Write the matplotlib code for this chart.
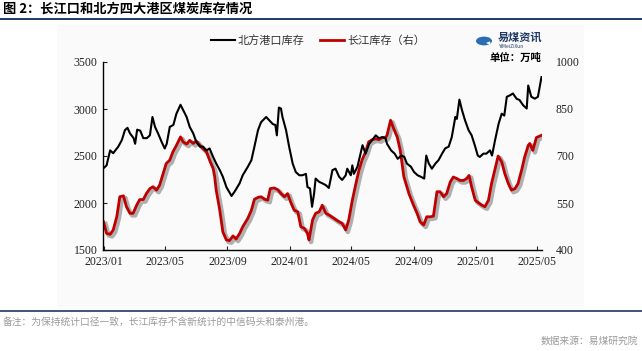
import pandas as pd
import matplotlib
matplotlib.use('Agg')
import matplotlib.pyplot as plt
import matplotlib.dates as mdates
import matplotlib.patheffects as pe
from matplotlib.patches import Rectangle, Circle, Wedge
from matplotlib.lines import Line2D

plt.rcParams['font.family'] = ['Noto Sans CJK SC', 'DejaVu Sans']

# 北方港口库存 (left axis, 万吨)
north_dates = [
    '2023-01-01', '2023-01-07', '2023-01-14', '2023-01-20', '2023-01-30', '2023-02-06',
    '2023-02-12', '2023-02-17', '2023-02-22', '2023-03-01', '2023-03-04', '2023-03-08',
    '2023-03-14', '2023-03-20', '2023-03-27', '2023-04-02', '2023-04-07', '2023-04-12',
    '2023-04-18', '2023-04-25', '2023-05-01', '2023-05-05', '2023-05-11', '2023-05-18',
    '2023-05-24', '2023-06-01', '2023-06-06', '2023-06-13', '2023-06-19', '2023-06-26',
    '2023-07-02', '2023-07-09', '2023-07-15', '2023-07-22', '2023-07-28', '2023-08-04',
    '2023-08-10', '2023-08-17', '2023-08-23', '2023-08-30', '2023-09-09', '2023-09-15',
    '2023-09-25', '2023-10-01', '2023-10-11', '2023-10-18', '2023-10-24', '2023-10-31',
    '2023-11-06', '2023-11-16', '2023-11-22', '2023-11-29', '2023-12-04', '2023-12-07',
    '2023-12-11', '2023-12-15', '2023-12-18', '2023-12-25', '2023-12-31', '2024-01-07',
    '2024-01-13', '2024-01-20', '2024-01-26', '2024-02-02', '2024-02-05', '2024-02-10',
    '2024-02-14', '2024-02-18', '2024-02-21', '2024-02-28', '2024-03-05', '2024-03-12',
    '2024-03-18', '2024-03-25', '2024-03-31', '2024-04-07', '2024-04-13', '2024-04-20',
    '2024-04-23', '2024-04-30', '2024-05-03', '2024-05-06', '2024-05-13', '2024-05-16',
    '2024-05-23', '2024-05-29', '2024-06-05', '2024-06-11', '2024-06-18', '2024-06-24',
    '2024-07-01', '2024-07-07', '2024-07-10', '2024-07-18', '2024-07-25', '2024-07-31',
    '2024-08-07', '2024-08-13', '2024-08-18', '2024-08-26', '2024-09-01', '2024-09-08',
    '2024-09-14', '2024-09-21', '2024-09-25', '2024-09-30', '2024-10-06', '2024-10-13',
    '2024-10-19', '2024-10-26', '2024-11-01', '2024-11-08', '2024-11-14', '2024-11-21',
    '2024-11-24', '2024-11-29', '2024-12-04', '2024-12-10', '2024-12-17', '2024-12-23',
    '2024-12-30', '2025-01-04', '2025-01-08', '2025-01-15', '2025-01-21', '2025-01-28',
    '2025-02-01', '2025-02-07', '2025-02-14', '2025-02-20', '2025-02-25', '2025-03-02',
    '2025-03-08', '2025-03-14', '2025-03-21', '2025-03-27', '2025-04-03', '2025-04-10',
    '2025-04-13', '2025-04-19', '2025-04-26', '2025-05-02', '2025-05-09',
]
north_vals = [
    2370, 2400, 2560, 2530, 2600, 2670, 2775, 2800, 2740, 2690, 2630, 2780,
    2770, 2690, 2690, 2720, 2915, 2810, 2740, 2650, 2580, 2630, 2810, 2830,
    2950, 3045, 2990, 2915, 2810, 2740, 2650, 2600, 2600, 2560, 2580, 2490,
    2420, 2350, 2280, 2170, 2075, 2120, 2210, 2295, 2385, 2455, 2600, 2775,
    2860, 2915, 2880, 2840, 2830, 2720, 3015, 3005, 2915, 2775, 2600, 2420,
    2330, 2295, 2295, 2310, 2170, 2155, 1960, 2100, 2260, 2225, 2210, 2190,
    2160, 2350, 2365, 2280, 2245, 2295, 2365, 2295, 2400, 2310, 2385, 2455,
    2615, 2525, 2630, 2670, 2720, 2690, 2700, 2690, 2630, 2560, 2525, 2470,
    2505, 2490, 2420, 2385, 2330, 2295, 2280, 2260, 2505, 2420, 2365, 2420,
    2455, 2525, 2580, 2600, 2700, 2915, 2895, 3100, 2990, 2880, 2775, 2720,
    2600, 2505, 2490, 2525, 2525, 2560, 2505, 2670, 2845, 2950, 2930, 3130,
    3145, 3165, 3110, 3095, 3040, 3005, 3250, 3130, 3110, 3130, 3340,
]

# 长江库存 (right axis, 万吨)
yangtze_dates = [
    '2023-01-01', '2023-01-07', '2023-01-14', '2023-01-20', '2023-01-27', '2023-02-02',
    '2023-02-09', '2023-02-15', '2023-02-22', '2023-02-28', '2023-03-07', '2023-03-13',
    '2023-03-20', '2023-03-26', '2023-04-02', '2023-04-08', '2023-04-15', '2023-04-21',
    '2023-04-28', '2023-05-04', '2023-05-11', '2023-05-17', '2023-05-24', '2023-06-01',
    '2023-06-06', '2023-06-13', '2023-06-19', '2023-06-26', '2023-07-02', '2023-07-09',
    '2023-07-15', '2023-07-22', '2023-07-28', '2023-08-04', '2023-08-07', '2023-08-10',
    '2023-08-17', '2023-08-23', '2023-08-30', '2023-09-05', '2023-09-12', '2023-09-18',
    '2023-09-25', '2023-10-01', '2023-10-11', '2023-10-18', '2023-10-24', '2023-10-31',
    '2023-11-06', '2023-11-13', '2023-11-19', '2023-11-24', '2023-12-02', '2023-12-09',
    '2023-12-15', '2023-12-22', '2023-12-28', '2024-01-04', '2024-01-10', '2024-01-17',
    '2024-01-23', '2024-01-30', '2024-02-05', '2024-02-08', '2024-02-15', '2024-02-21',
    '2024-02-28', '2024-03-05', '2024-03-12', '2024-03-18', '2024-03-28', '2024-04-07',
    '2024-04-13', '2024-04-20', '2024-04-26', '2024-05-03', '2024-05-10', '2024-05-16',
    '2024-05-22', '2024-05-29', '2024-06-04', '2024-06-11', '2024-06-18', '2024-06-24',
    '2024-07-01', '2024-07-07', '2024-07-10', '2024-07-17', '2024-07-23', '2024-07-30',
    '2024-08-05', '2024-08-12', '2024-08-22', '2024-08-31', '2024-09-07', '2024-09-13',
    '2024-09-20', '2024-09-26', '2024-10-03', '2024-10-09', '2024-10-16', '2024-10-22',
    '2024-10-29', '2024-11-04', '2024-11-11', '2024-11-17', '2024-11-24', '2024-11-30',
    '2024-12-07', '2024-12-13', '2024-12-18', '2024-12-23', '2024-12-30', '2025-01-05',
    '2025-01-12', '2025-01-18', '2025-01-25', '2025-01-31', '2025-02-07', '2025-02-13',
    '2025-02-20', '2025-02-26', '2025-03-05', '2025-03-11', '2025-03-18', '2025-03-24',
    '2025-03-31', '2025-04-06', '2025-04-13', '2025-04-16', '2025-04-22', '2025-04-29',
    '2025-05-09',
]
yangtze_vals = [
    490, 453, 450, 464, 506, 570, 573, 538, 517, 517, 543, 561,
    561, 580, 596, 602, 591, 607, 644, 676, 687, 713, 734, 761,
    745, 738, 750, 740, 748, 734, 724, 713, 687, 660, 634, 591,
    527, 458, 432, 430, 445, 435, 453, 474, 501, 527, 562, 568,
    570, 562, 559, 596, 598, 592, 580, 570, 580, 549, 527, 522,
    474, 469, 453, 432, 496, 517, 522, 543, 517, 512, 501, 490,
    485, 464, 496, 559, 612, 655, 687, 713, 745, 752, 755, 752,
    759, 759, 766, 814, 788, 761, 718, 634, 580, 543, 517, 490,
    480, 506, 506, 508, 586, 586, 570, 580, 617, 633, 628, 622,
    622, 628, 638, 601, 559, 551, 543, 538, 559, 612, 660, 700,
    681, 644, 612, 591, 596, 612, 655, 697, 734, 740, 718, 759,
    766,
]

left_ticks = [1500, 2000, 2500, 3000, 3500]
right_ticks = [400, 550, 700, 850, 1000]

title = '图 2：长江口和北方四大港区煤炭库存情况'
note = '备注：为保持统计口径一致，长江库存不含新统计的中信码头和泰州港。'
source = '数据来源：易煤研究院'

navy = '#1f3864'
red = '#c00000'
tick_font = 'Liberation Serif'

fig = plt.figure(figsize=(6.42, 3.51), dpi=100)

# light panel behind the chart
fig.patches.append(Rectangle((57 / 642, 1 - 307 / 351), 527 / 642, 282 / 351,
                             transform=fig.transFigure, fc='#fafafa', ec='none', zorder=-5))

# header and footer rules
fig.add_artist(Line2D([0, 1], [1 - 19 / 351] * 2, color=navy, lw=1.4))
fig.add_artist(Line2D([0, 1], [1 - 311 / 351] * 2, color=navy, lw=1.2))
fig.text(3 / 642, 1 - 9 / 351, title, fontsize=9.5, fontweight='bold', va='center', ha='left')
fig.text(3 / 642, 1 - 322 / 351, note, fontsize=7, color='#9a9a9a', va='center', ha='left')
fig.text(638 / 642, 1 - 341 / 351, source, fontsize=7, color='#9a9a9a', va='center', ha='right')

ax = fig.add_axes([103 / 642, 1 - 250 / 351, 439 / 642, 188 / 351])
ax2 = ax.twinx()
ax.set_zorder(2)
ax2.set_zorder(1)
ax.set_facecolor('none')
ax2.set_facecolor('none')

nd = pd.to_datetime(north_dates)
yd = pd.to_datetime(yangtze_dates)

l1, = ax.plot(nd, north_vals, color='black', lw=1.5)
l2, = ax2.plot(yd, yangtze_vals, color=red, lw=2.0,
               path_effects=[pe.SimpleLineShadow(offset=(1.5, -1.5), shadow_color='#555555', alpha=0.45, linewidth=3.2),
                             pe.Normal()])

ax.set_xlim(pd.Timestamp('2022-12-31'), pd.Timestamp('2025-05-10'))
ax.set_ylim(1500, 3500)
ax2.set_ylim(400, 1000)
ax.set_yticks(left_ticks)
ax2.set_yticks(right_ticks)
ax.xaxis.set_major_locator(mdates.MonthLocator(bymonth=[1, 5, 9]))
ax.xaxis.set_major_formatter(mdates.DateFormatter('%Y/%m'))

for a in (ax, ax2):
    a.spines['top'].set_visible(False)
    a.spines['right'].set_visible(False)
ax2.spines['left'].set_visible(False)
ax2.spines['bottom'].set_visible(False)
ax.spines['left'].set_linewidth(1.0)
ax.spines['bottom'].set_linewidth(1.0)

ax.tick_params(axis='both', direction='in', length=3, width=0.8, labelsize=8.5, colors='#222222', pad=4)
ax2.tick_params(axis='y', length=0, labelsize=8.5, colors='#222222', pad=10)
for lab in ax.get_xticklabels() + ax.get_yticklabels() + ax2.get_yticklabels():
    lab.set_fontfamily(tick_font)

leg_line2 = Line2D([], [], color=red, lw=2.0)
fig.legend([l1, leg_line2], ['北方港口库存', '长江库存（右）'], loc='center',
           bbox_to_anchor=(318 / 642, 1 - 40 / 351), ncol=2, frameon=False,
           fontsize=8, handlelength=2.1, handletextpad=0.3, columnspacing=1.4,
           labelcolor='#333333')

# logo and unit
fig.patches.append(Circle((484 / 642, 1 - 41 / 351), 0.0125, transform=fig.transFigure,
                          fc='#2a6db5', ec='none'))
fig.patches.append(Wedge((486 / 642, 1 - 43 / 351), 0.007, -40, 40, transform=fig.transFigure,
                         fc='white', ec='none'))
fig.text(498 / 642, 1 - 37 / 351, '易煤资讯', fontsize=8, fontweight='bold', color='#1f3864',
         va='center', ha='left')
fig.text(499 / 642, 1 - 46 / 351, 'YiMeiZiXun', fontsize=3.5, color='#1f3864', va='center', ha='left')
fig.text(541 / 642, 1 - 58 / 351, '单位：万吨', fontsize=7.5, fontweight='bold', va='center', ha='right')

fig.savefig('out.png', dpi=100)
